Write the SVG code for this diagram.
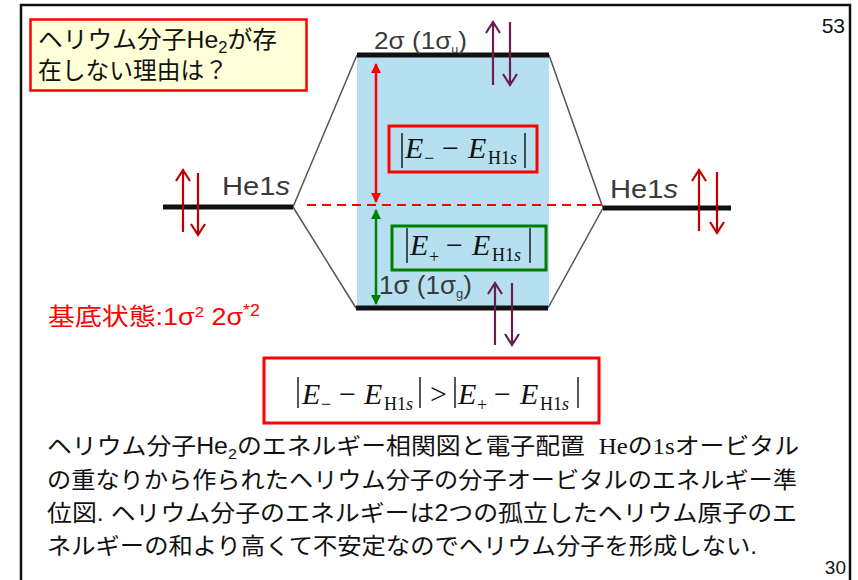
<svg xmlns="http://www.w3.org/2000/svg" width="858" height="580" viewBox="0 0 858 580">
<defs>
<style>
.jp{font-family:"Liberation Sans","Noto Sans CJK JP",sans-serif;}
.lbl{font-family:"Liberation Sans","DejaVu Sans",sans-serif;fill:#3a3a3a;}
.E{font-family:"Liberation Serif",serif;font-size:30px;font-style:italic;fill:#111;}
.op{font-family:"Liberation Serif",serif;font-size:30px;fill:#111;}
.sub{font-family:"Liberation Serif",serif;font-size:18px;fill:#111;}
.bar{stroke:#111;stroke-width:1.4;}
.spinR{stroke:#c00000;stroke-width:2.2;fill:none;}
.spinP{stroke:#6a1e4e;stroke-width:2.2;fill:none;}
.corr{stroke:#555;stroke-width:1.5;fill:none;}
.lvl{stroke:#111;stroke-width:5;}
</style>
<marker id="hr" viewBox="0 0 10 10" refX="9" refY="5" markerWidth="4" markerHeight="4" orient="auto-start-reverse"><path d="M0,0 L10,5 L0,10 z" fill="#ff0000"/></marker>
<marker id="hg" viewBox="0 0 10 10" refX="9" refY="5" markerWidth="4" markerHeight="4" orient="auto-start-reverse"><path d="M0,0 L10,5 L0,10 z" fill="#008000"/></marker>
</defs>
<rect width="858" height="580" fill="#fff"/>
<rect x="21" y="5" width="829" height="590" fill="none" stroke="#111" stroke-width="2.5"/>
<text x="845" y="33" class="jp" font-size="21" text-anchor="end" fill="#111">53</text>
<text x="846" y="574" class="jp" font-size="19" text-anchor="end" fill="#111">30</text>

<g id="title">
<rect x="30.5" y="19.5" width="276" height="71" fill="#ffffd8" stroke="#ff0000" stroke-width="2.5"/>
<text x="38" y="48" class="jp" font-size="24" fill="#111" textLength="239" lengthAdjust="spacingAndGlyphs">ヘリウム分子He<tspan font-size="16" dy="5">2</tspan><tspan dy="-5">が存</tspan></text>
<text x="38" y="79" class="jp" font-size="24" fill="#111" textLength="190" lengthAdjust="spacingAndGlyphs">在しない理由は？</text>
</g>

<g id="mo-region">
<rect x="357" y="56" width="192" height="251" fill="#b6e0f0"/>
</g>

<g id="connectors">
<line class="corr" x1="293" y1="207" x2="357" y2="55"/>
<line class="corr" x1="293" y1="207" x2="356" y2="308"/>
<line class="corr" x1="603" y1="208" x2="549" y2="55"/>
<line class="corr" x1="603" y1="208" x2="548" y2="308"/>
<line x1="307" y1="205" x2="601" y2="205" stroke="#ff0000" stroke-width="2" stroke-dasharray="9,6"/>
<line x1="376" y1="64" x2="376" y2="202" stroke="#ff0000" stroke-width="2.5" marker-start="url(#hr)" marker-end="url(#hr)"/>
<line x1="376" y1="210" x2="376" y2="304" stroke="#008000" stroke-width="2.5" marker-start="url(#hg)" marker-end="url(#hg)"/>
</g>

<g id="he1s-left">
<line class="lvl" x1="163" y1="207" x2="293" y2="207"/>
<text x="222" y="195" class="lbl" font-size="26" textLength="68" lengthAdjust="spacingAndGlyphs">He1<tspan font-style="italic">s</tspan></text>
<path class="spinR" d="M183,232 V170 M176,181 L183,170 L190,181"/>
<path class="spinR" d="M198,173 V235 M191,224 L198,235 L205,224"/>
</g>

<g id="he1s-right">
<line class="lvl" x1="603" y1="208" x2="731" y2="208"/>
<text x="610" y="198" class="lbl" font-size="26" textLength="68" lengthAdjust="spacingAndGlyphs">He1<tspan font-style="italic">s</tspan></text>
<path class="spinR" d="M699,231 V170 M692,181 L699,170 L706,181"/>
<path class="spinR" d="M717,172 V233 M710,222 L717,233 L724,222"/>
</g>

<g id="sigma2">
<line class="lvl" x1="357" y1="55" x2="549" y2="55" stroke-width="3.5"/>
<text x="374" y="49" class="lbl" font-size="23" textLength="93" lengthAdjust="spacingAndGlyphs">2σ (1σ<tspan font-size="11" dy="4">u</tspan><tspan dy="-4">)</tspan></text>
<path class="spinP" d="M493,85 V22 M486,33 L493,22 L500,33"/>
<path class="spinP" d="M510,22 V85 M503,74 L510,85 L517,74"/>
</g>

<g id="sigma1">
<line class="lvl" x1="356" y1="308" x2="548" y2="308" stroke-width="3.5"/>
<text x="379" y="294" class="lbl" font-size="26" textLength="93" lengthAdjust="spacingAndGlyphs">1σ (1σ<tspan font-size="13" dy="4">g</tspan><tspan dy="-4">)</tspan></text>
<path class="spinP" d="M495,345 V283 M488,294 L495,283 L502,294"/>
<path class="spinP" d="M512,283 V345 M505,334 L512,345 L519,334"/>
</g>

<g id="diff-minus">
<rect x="389" y="126" width="148" height="46" fill="none" stroke="#ff0000" stroke-width="3"/>
<line class="bar" x1="402" y1="133" x2="402" y2="168"/>
<text x="405" y="158" class="E">E</text>
<text x="424" y="164" class="sub">−</text>
<text x="442" y="158" class="op">−</text>
<text x="468" y="158" class="E">E</text>
<text x="488" y="164" class="sub">H1<tspan font-style="italic">s</tspan></text>
<line class="bar" x1="525" y1="133" x2="525" y2="168"/>
</g>

<g id="diff-plus">
<rect x="392" y="226" width="154" height="44" fill="none" stroke="#008000" stroke-width="3"/>
<line class="bar" x1="407" y1="228" x2="407" y2="263"/>
<text x="410" y="255" class="E">E</text>
<text x="429" y="263" class="sub">+</text>
<text x="446" y="255" class="op">−</text>
<text x="472" y="255" class="E">E</text>
<text x="492" y="261" class="sub">H1<tspan font-style="italic">s</tspan></text>
<line class="bar" x1="530" y1="228" x2="530" y2="263"/>
</g>

<text x="48" y="325" class="jp" font-size="24" fill="#ff0000" textLength="212" lengthAdjust="spacingAndGlyphs">基底状態:1σ<tspan font-size="15" dy="-8">2</tspan><tspan dy="8"> 2σ</tspan><tspan font-size="16" dy="-9">*2</tspan></text>

<g id="inequality">
<rect x="264" y="358" width="335" height="65" fill="#fff" stroke="#ff0000" stroke-width="3"/>
<line class="bar" x1="298" y1="377" x2="298" y2="408"/>
<text x="302" y="404" class="E">E</text>
<text x="321" y="410" class="sub">−</text>
<text x="339" y="404" class="op">−</text>
<text x="364" y="404" class="E">E</text>
<text x="384" y="410" class="sub">H1<tspan font-style="italic">s</tspan></text>
<line class="bar" x1="420" y1="377" x2="420" y2="408"/>
<text x="430" y="404" class="op">&gt;</text>
<line class="bar" x1="455" y1="377" x2="455" y2="408"/>
<text x="458" y="404" class="E">E</text>
<text x="477" y="411" class="sub">+</text>
<text x="494" y="404" class="op">−</text>
<text x="520" y="404" class="E">E</text>
<text x="540" y="410" class="sub">H1<tspan font-style="italic">s</tspan></text>
<line class="bar" x1="578" y1="377" x2="578" y2="408"/>
</g>

<g id="caption" class="jp" font-size="23" fill="#111">
<text x="47" y="454" textLength="752" lengthAdjust="spacingAndGlyphs">ヘリウム分子He<tspan font-size="15" dy="5">2</tspan><tspan dy="-5">のエネルギー相関図と電子配置&#160;&#160;</tspan><tspan font-family="Liberation Serif,serif">He</tspan>の<tspan font-family="Liberation Serif,serif">1s</tspan>オービタル</text>
<text x="47" y="488" textLength="750" lengthAdjust="spacingAndGlyphs">の重なりから作られたヘリウム分子の分子オービタルのエネルギー準</text>
<text x="47" y="521" textLength="750" lengthAdjust="spacingAndGlyphs">位図. ヘリウム分子のエネルギーは2つの孤立したヘリウム原子のエ</text>
<text x="47" y="554" textLength="710" lengthAdjust="spacingAndGlyphs">ネルギーの和より高くて不安定なのでヘリウム分子を形成しない.</text>
</g>
</svg>
